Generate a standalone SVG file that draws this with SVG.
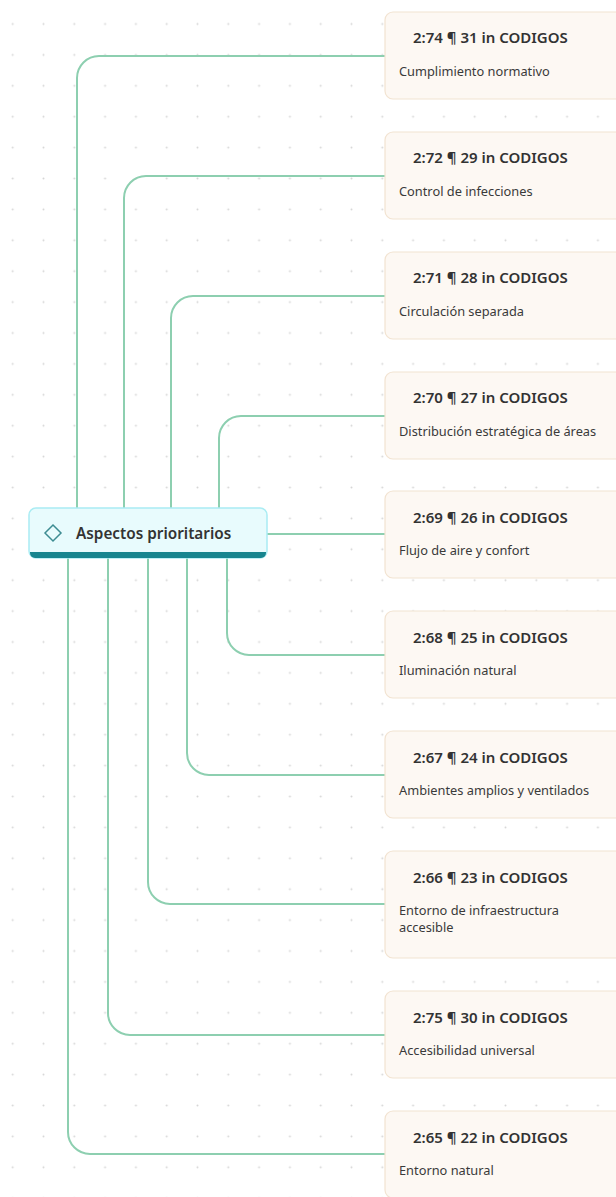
<svg xmlns="http://www.w3.org/2000/svg" width="616" height="1197" viewBox="0 0 616 1197">
  <defs>
    <pattern id="dots" patternUnits="userSpaceOnUse" x="-2.7" y="8.55" width="30.8" height="30.9">
      <circle cx="15.4" cy="15.45" r="1" fill="#d6d6d6"/>
    </pattern>
    <style>
      .link { fill: none; stroke: #8dcfb0; stroke-width: 2; stroke-linecap: round; }
      .card { fill: #fdf8f3; stroke: #f2e3d1; stroke-width: 1.2; }
      .title { font-family: "Noto Sans", "Open Sans", sans-serif; font-size: 15px; font-weight: 600; fill: #333333; }
      .sub { font-family: "Noto Sans", "Open Sans", sans-serif; font-size: 12.8px; fill: #3a3a3a; }
      .root-text { font-family: "Noto Sans", "Open Sans", sans-serif; font-size: 15.3px; font-weight: 600; fill: #333333; }
    </style>
  </defs>

  <rect width="616" height="1197" fill="#ffffff"/>
  <rect width="616" height="1197" fill="url(#dots)"/>

  <g id="connectors">
    <path class="link" d="M77 508 V78 A22 22 0 0 1 99 56 H386"/>
    <path class="link" d="M124 508 V198 A22 22 0 0 1 146 176 H386"/>
    <path class="link" d="M171 508 V318 A22 22 0 0 1 193 296 H386"/>
    <path class="link" d="M219 508 V438 A22 22 0 0 1 241 416 H386"/>
    <path class="link" d="M267 534 H386"/>
    <path class="link" d="M227 558 V633 A22 22 0 0 0 249 655 H386"/>
    <path class="link" d="M187 558 V753 A22 22 0 0 0 209 775 H386"/>
    <path class="link" d="M148 558 V882 A22 22 0 0 0 170 904 H386"/>
    <path class="link" d="M108 558 V1013 A22 22 0 0 0 130 1035 H386"/>
    <path class="link" d="M68 558 V1132 A22 22 0 0 0 90 1154 H386"/>
  </g>

  <g id="root">
    <rect x="29" y="508" width="238" height="50" rx="7" fill="#e8fbfd" stroke="#a9ecf3" stroke-width="1.5"/>
    <path d="M30 552 H266 V553 A5 5 0 0 1 261 558 H35 A5 5 0 0 1 30 553 Z" fill="#17858f"/>
    <path d="M53 525 L61 533 L53 541 L45 533 Z" fill="none" stroke="#3d8c92" stroke-width="1.5"/>
    <text class="root-text" x="76" y="539">Aspectos prioritarios</text>
  </g>

  <g id="n1">
    <rect class="card" x="385" y="12" width="260" height="87" rx="8"/>
    <text class="title" x="413" y="43">2:74 ¶ 31 in CODIGOS</text>
    <text class="sub" x="399" y="76">Cumplimiento normativo</text>
  </g>
  <g id="n2">
    <rect class="card" x="385" y="132" width="260" height="87" rx="8"/>
    <text class="title" x="413" y="163">2:72 ¶ 29 in CODIGOS</text>
    <text class="sub" x="399" y="196">Control de infecciones</text>
  </g>
  <g id="n3">
    <rect class="card" x="385" y="252" width="260" height="87" rx="8"/>
    <text class="title" x="413" y="283">2:71 ¶ 28 in CODIGOS</text>
    <text class="sub" x="399" y="316">Circulación separada</text>
  </g>
  <g id="n4">
    <rect class="card" x="385" y="372" width="260" height="87" rx="8"/>
    <text class="title" x="413" y="403">2:70 ¶ 27 in CODIGOS</text>
    <text class="sub" x="399" y="436">Distribución estratégica de áreas</text>
  </g>
  <g id="n5">
    <rect class="card" x="385" y="491" width="260" height="87" rx="8"/>
    <text class="title" x="413" y="523">2:69 ¶ 26 in CODIGOS</text>
    <text class="sub" x="399" y="555">Flujo de aire y confort</text>
  </g>
  <g id="n6">
    <rect class="card" x="385" y="611" width="260" height="87" rx="8"/>
    <text class="title" x="413" y="643">2:68 ¶ 25 in CODIGOS</text>
    <text class="sub" x="399" y="675">Iluminación natural</text>
  </g>
  <g id="n7">
    <rect class="card" x="385" y="731" width="260" height="87" rx="8"/>
    <text class="title" x="413" y="763">2:67 ¶ 24 in CODIGOS</text>
    <text class="sub" x="399" y="795">Ambientes amplios y ventilados</text>
  </g>
  <g id="n8">
    <rect class="card" x="385" y="851" width="260" height="107" rx="8"/>
    <text class="title" x="413" y="883">2:66 ¶ 23 in CODIGOS</text>
    <text class="sub" x="399" y="915">Entorno de infraestructura</text>
    <text class="sub" x="399" y="932">accesible</text>
  </g>
  <g id="n9">
    <rect class="card" x="385" y="991" width="260" height="87" rx="8"/>
    <text class="title" x="413" y="1023">2:75 ¶ 30 in CODIGOS</text>
    <text class="sub" x="399" y="1055">Accesibilidad universal</text>
  </g>
  <g id="n10">
    <rect class="card" x="385" y="1111" width="260" height="87" rx="8"/>
    <text class="title" x="413" y="1143">2:65 ¶ 22 in CODIGOS</text>
    <text class="sub" x="399" y="1175">Entorno natural</text>
  </g>
</svg>
